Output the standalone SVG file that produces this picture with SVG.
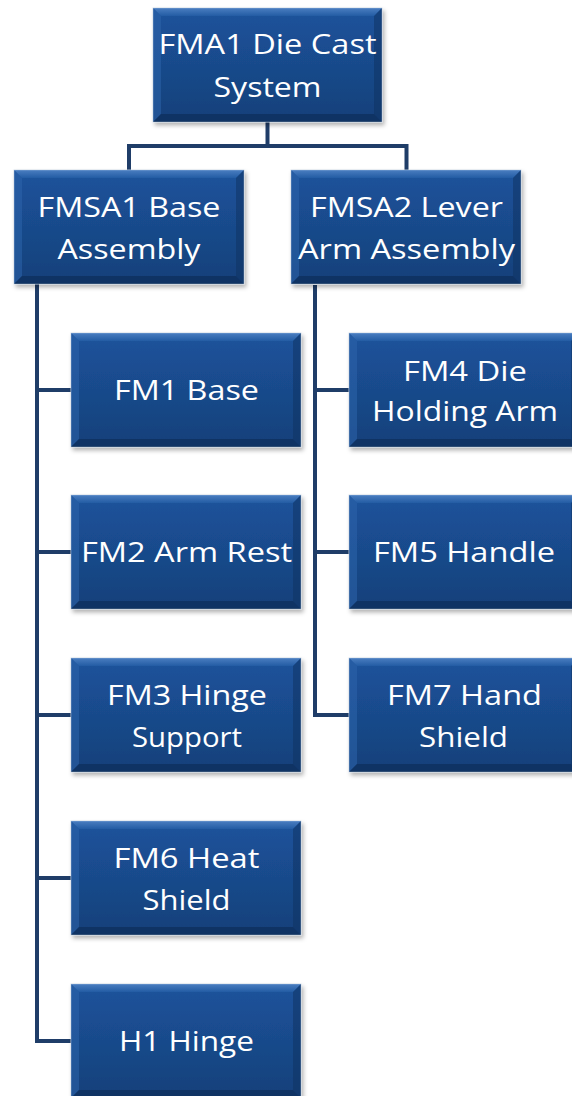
<svg xmlns="http://www.w3.org/2000/svg" xmlns:xlink="http://www.w3.org/1999/xlink" width="572" height="1096" viewBox="0 0 572 1096">
<style>
text{font-family:"Open Sans","Liberation Sans",sans-serif;font-size:28px;fill:#ffffff;text-anchor:middle}
.conn{fill:none;stroke:#1f3d68;stroke-width:4;stroke-linejoin:miter}
</style>
<defs>
<linearGradient id="g" x1="0" y1="0" x2="0" y2="1">
<stop offset="0" stop-color="#1c539c"/>
<stop offset="0.5" stop-color="#194a8b"/>
<stop offset="1" stop-color="#14407a"/>
</linearGradient>
<linearGradient id="gt" x1="0" y1="0" x2="0" y2="1">
<stop offset="0" stop-color="#5e90d0"/>
<stop offset="1" stop-color="#2660a8"/>
</linearGradient>
<filter id="sh" x="-10%" y="-10%" width="120%" height="125%">
<feDropShadow dx="2" dy="3" stdDeviation="2" flood-color="#000" flood-opacity="0.3"/>
</filter>
<g id="box">
<rect x="0" y="0" width="230" height="114" fill="url(#g)" stroke="#c9d4e2" stroke-width="0.8" filter="url(#sh)"/>
<polygon points="0,0 230,0 222,8 8,8" fill="url(#gt)" opacity="0.7"/>
<polygon points="0,0 8,8 8,106 0,114" fill="#2d64ac" opacity="0.55"/>
<polygon points="230,0 222,8 222,106 230,114" fill="#0e3160" opacity="0.5"/>
<polygon points="0,114 8,106 222,106 230,114" fill="#0b2850" opacity="0.55"/>
</g>
</defs>
<g id="connectors">
<path class="conn" d="M267.5,122 V146"/>
<path class="conn" d="M129,170 V146 H406.5 V170"/>
<path class="conn" d="M37,284 V1041 H71"/>
<path class="conn" d="M37,390 H71 M37,552 H71 M37,715 H71 M37,878 H71"/>
<path class="conn" d="M315,285 V715 H349"/>
<path class="conn" d="M315,390 H349 M315,552 H349"/>
</g>
<g id="fma1">
<use xlink:href="#box" transform="translate(153,8) scale(0.9957,1)"/>
<text x="267.5" y="54" textLength="218" lengthAdjust="spacingAndGlyphs">FMA1 Die Cast</text>
<text x="267.5" y="97" textLength="108" lengthAdjust="spacingAndGlyphs">System</text>
</g>
<g id="fmsa1">
<use xlink:href="#box" transform="translate(14,170)"/>
<text x="129" y="217" textLength="183" lengthAdjust="spacingAndGlyphs">FMSA1 Base</text>
<text x="129" y="259" textLength="143" lengthAdjust="spacingAndGlyphs">Assembly</text>
</g>
<g id="fmsa2">
<use xlink:href="#box" transform="translate(291,170)"/>
<text x="406.5" y="217" textLength="193" lengthAdjust="spacingAndGlyphs">FMSA2 Lever</text>
<text x="406.5" y="259" textLength="217" lengthAdjust="spacingAndGlyphs">Arm Assembly</text>
</g>
<g id="fm1">
<use xlink:href="#box" transform="translate(71,333)"/>
<text x="186.5" y="400" textLength="145" lengthAdjust="spacingAndGlyphs">FM1 Base</text>
</g>
<g id="fm2">
<use xlink:href="#box" transform="translate(71,495)"/>
<text x="186.5" y="562" textLength="211" lengthAdjust="spacingAndGlyphs">FM2 Arm Rest</text>
</g>
<g id="fm3">
<use xlink:href="#box" transform="translate(71,658)"/>
<text x="187" y="705" textLength="160" lengthAdjust="spacingAndGlyphs">FM3 Hinge</text>
<text x="187" y="747" textLength="110" lengthAdjust="spacingAndGlyphs">Support</text>
</g>
<g id="fm6">
<use xlink:href="#box" transform="translate(71,821)"/>
<text x="186.5" y="868" textLength="146" lengthAdjust="spacingAndGlyphs">FM6 Heat</text>
<text x="186.5" y="910" textLength="88" lengthAdjust="spacingAndGlyphs">Shield</text>
</g>
<g id="h1">
<use xlink:href="#box" transform="translate(71,984)"/>
<text x="186.5" y="1051" textLength="135" lengthAdjust="spacingAndGlyphs">H1 Hinge</text>
</g>
<g id="fm4">
<use xlink:href="#box" transform="translate(349,333)"/>
<text x="465" y="381" textLength="124" lengthAdjust="spacingAndGlyphs">FM4 Die</text>
<text x="465" y="421" textLength="186" lengthAdjust="spacingAndGlyphs">Holding Arm</text>
</g>
<g id="fm5">
<use xlink:href="#box" transform="translate(349,495)"/>
<text x="464" y="562" textLength="182" lengthAdjust="spacingAndGlyphs">FM5 Handle</text>
</g>
<g id="fm7">
<use xlink:href="#box" transform="translate(349,658)"/>
<text x="464.5" y="705" textLength="155" lengthAdjust="spacingAndGlyphs">FM7 Hand</text>
<text x="463.5" y="747" textLength="89" lengthAdjust="spacingAndGlyphs">Shield</text>
</g>
</svg>
